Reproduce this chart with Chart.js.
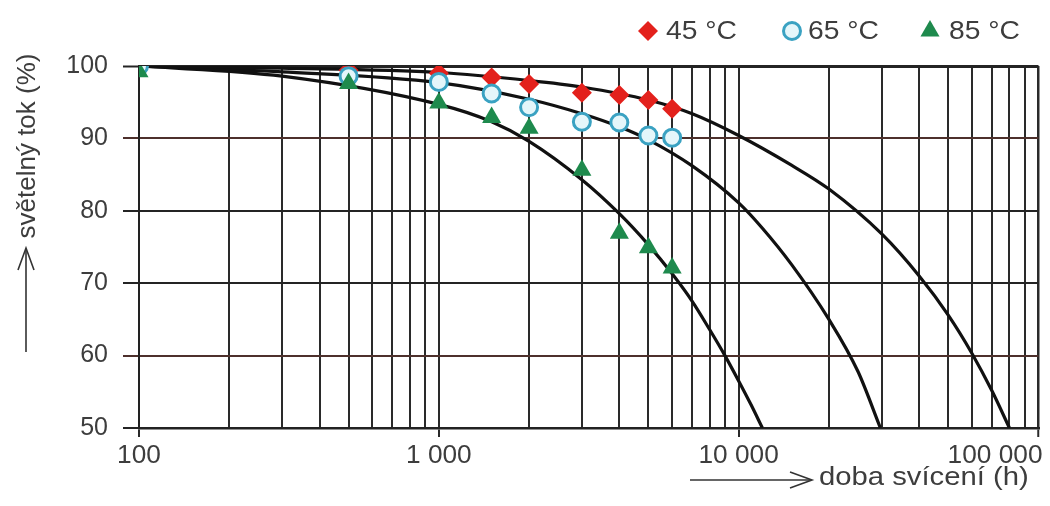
<!DOCTYPE html>
<html>
<head>
<meta charset="utf-8">
<script src="https://cdn.jsdelivr.net/npm/chart.js@4.4.1/dist/chart.umd.min.js"></script>
<style>
  html, body { margin: 0; padding: 0; background: #fff; }
  #wrap { width: 1050px; height: 506px; }
</style>
</head>
<body>
<div id="wrap"><canvas id="chart" width="1050" height="506"></canvas></div>
<script>
// measured points (hours, luminous flux %)
const hours45 = [100, 500, 1000, 1500, 2000, 3000, 4000, 5000, 6000];
const flux45 = [100, 99.4, 99.0, 98.4, 97.5, 96.3, 96.0, 95.3, 94.1];
const hours65 = [100, 500, 1000, 1500, 2000, 3000, 4000, 5000, 6000];
const flux65 = [100, 98.6, 97.8, 96.2, 94.3, 92.3, 92.2, 90.4, 90.1];
const hours85 = [100, 500, 1000, 1500, 2000, 3000, 4000, 5000, 6000];
const flux85 = [99.2, 97.6, 94.9, 92.9, 91.4, 85.6, 76.9, 74.9, 72.1];

// fitted curves
const curveHours45 = [100, 300, 1000, 2000, 3000, 5000, 7000, 10000, 15000, 20000, 30000, 40000, 50000, 60000, 70000, 80000];
const curveFlux45 = [100, 99.7, 99.1, 98.0, 97.1, 95.3, 93.4, 90.4, 86.3, 83.0, 76.8, 71.0, 65.6, 60.3, 55.1, 50];
const curveHours65 = [100, 300, 1000, 2000, 3000, 4000, 5000, 7000, 10000, 12000, 15000, 20000, 25000, 29700];
const curveFlux65 = [100, 99.2, 97.7, 95.4, 93.4, 91.6, 89.8, 86.2, 81.1, 77.6, 72.6, 65.0, 57.8, 50];
const curveHours85 = [100, 300, 1000, 1500, 2000, 3000, 4000, 5000, 6000, 7000, 8000, 9000, 10000, 11000, 12000];
const curveFlux85 = [100, 98.6, 94.7, 92.3, 89.6, 84.3, 79.6, 75.3, 71.3, 67.5, 63.6, 60, 56.5, 53.2, 50];

// axes
const xGridValues = [
    100, 200, 300, 400, 500, 600, 700, 800, 900,
    1000, 2000, 3000, 4000, 5000, 6000, 7000, 8000, 9000,
    10000, 20000, 30000, 40000, 50000, 60000, 70000, 80000, 90000,
    100000
];
const xTickValues = [100, 1000, 10000, 100000];
const xTickLabels = ['100', '1 000', '10 000', '100 000'];
const yTickValues = [50, 60, 70, 80, 90, 100];
const legendLabels = ['45 °C', '65 °C', '85 °C'];
const yTitle = 'světelný tok (%)';
const xTitle = 'doba svícení (h)';

const FONT = '"Liberation Sans", Arial, sans-serif';
const TEXT_COLOR = '#3d3d3d';

function toPoints(xs, ys) {
    return xs.map((x, i) => ({ x: x, y: ys[i] }));
}

function stretchedText(ctx, text, x, y, align, sx) {
    ctx.save();
    ctx.translate(x, y);
    ctx.scale(sx, 1);
    ctx.textAlign = align;
    ctx.fillText(text, 0, 0);
    ctx.restore();
}

function arrowHead(ctx, x, y, dx, dy) {
    // open chevron, apex at (x, y), pointing along (dx, dy)
    const len = 22, half = 8;
    const px = -dy, py = dx;
    ctx.beginPath();
    ctx.moveTo(x - dx * len + px * half, y - dy * len + py * half);
    ctx.lineTo(x, y);
    ctx.lineTo(x - dx * len - px * half, y - dy * len - py * half);
    ctx.stroke();
}

// legend, axis titles and x labels
const decorations = {
    id: 'decorations',
    afterDraw(chart) {
        const ctx = chart.ctx;
        const xScale = chart.scales.x;
        ctx.save();
        ctx.fillStyle = TEXT_COLOR;
        ctx.textBaseline = 'middle';

        // x tick labels
        ctx.font = '25px ' + FONT;
        xTickValues.forEach((v, i) => {
            const px = xScale.getPixelForValue(v);
            const last = i === xTickValues.length - 1;
            stretchedText(ctx, xTickLabels[i], last ? px + 4 : px, 456, last ? 'right' : 'center', 1.05);
        });

        // x title with arrow
        ctx.font = '25px ' + FONT;
        stretchedText(ctx, xTitle, 819, 478, 'left', 1.17);
        ctx.strokeStyle = '#333';
        ctx.lineWidth = 1.6;
        ctx.beginPath();
        ctx.moveTo(690, 480);
        ctx.lineTo(811, 480);
        ctx.stroke();
        arrowHead(ctx, 812, 480, 1, 0);

        // y title with arrow
        ctx.save();
        ctx.translate(28, 146);
        ctx.rotate(-Math.PI / 2);
        ctx.font = '26px ' + FONT;
        ctx.textAlign = 'center';
        ctx.fillText(yTitle, 0, 0);
        ctx.restore();
        ctx.beginPath();
        ctx.moveTo(26, 352);
        ctx.lineTo(26, 249);
        ctx.stroke();
        arrowHead(ctx, 26, 248, 0, -1);

        // legend
        const ly = 31;
        const styles = chart.data.datasets.slice(0, 3);
        const markerX = [648, 792, 930];
        const textX = [666, 808, 949];
        styles.forEach((ds, i) => {
            const mx = markerX[i];
            ctx.save();
            ctx.fillStyle = ds.pointBackgroundColor;
            ctx.strokeStyle = ds.pointBorderColor;
            ctx.lineWidth = ds.pointBorderWidth;
            ctx.beginPath();
            if (ds.pointStyle === 'rectRot') {
                const r = 10;
                ctx.moveTo(mx, ly - r); ctx.lineTo(mx + r, ly); ctx.lineTo(mx, ly + r); ctx.lineTo(mx - r, ly);
                ctx.closePath();
                ctx.fill();
            } else if (ds.pointStyle === 'circle') {
                ctx.arc(mx, ly, 8.5, 0, Math.PI * 2);
                ctx.fill();
                ctx.stroke();
            } else {
                const r = 11;
                ctx.moveTo(mx, ly - r);
                ctx.lineTo(mx + r * 0.866, ly + r / 2);
                ctx.lineTo(mx - r * 0.866, ly + r / 2);
                ctx.closePath();
                ctx.fill();
            }
            ctx.restore();
            ctx.font = '25px ' + FONT;
            ctx.fillStyle = TEXT_COLOR;
            stretchedText(ctx, legendLabels[i], textX[i], ly + 1, 'left', 1.13);
        });
        ctx.restore();
    }
};

function curve(xs, ys) {
    return {
        data: toPoints(xs, ys),
        showLine: true,
        borderColor: '#111',
        borderWidth: 3.2,
        pointRadius: 0,
        cubicInterpolationMode: 'monotone',
        order: 5
    };
}

new Chart(document.getElementById('chart'), {
    type: 'scatter',
    data: {
        datasets: [
            {
                label: legendLabels[0],
                data: toPoints(hours45, flux45),
                pointStyle: 'rectRot',
                pointRadius: 10,
                pointBackgroundColor: '#e3211c',
                pointBorderColor: '#e3211c',
                pointBorderWidth: 0,
                order: 2
            },
            {
                label: legendLabels[1],
                data: toPoints(hours65, flux65),
                pointStyle: 'circle',
                pointRadius: 8.5,
                pointBackgroundColor: '#e4f6fa',
                pointBorderColor: '#3aa2c2',
                pointBorderWidth: 3,
                order: 1
            },
            {
                label: legendLabels[2],
                data: toPoints(hours85, flux85),
                pointStyle: 'triangle',
                pointRadius: 11,
                pointBackgroundColor: '#1e8a4d',
                pointBorderColor: '#1e8a4d',
                pointBorderWidth: 0,
                order: 0
            },
            curve(curveHours45, curveFlux45),
            curve(curveHours65, curveFlux65),
            curve(curveHours85, curveFlux85)
        ]
    },
    options: {
        responsive: false,
        animation: false,
        layout: { padding: { top: 66, right: 7, left: 0, bottom: 0 } },
        plugins: {
            legend: { display: false },
            tooltip: { enabled: false }
        },
        scales: {
            x: {
                type: 'logarithmic',
                min: 100,
                max: 100000,
                afterBuildTicks: (scale) => {
                    scale.ticks = xGridValues.map(v => ({ value: v, major: xTickValues.includes(v) }));
                },
                afterFit: (scale) => { scale.height = 78; },
                ticks: { display: false, autoSkip: false },
                grid: {
                    color: '#2a2a2a',
                    lineWidth: (ctx) => (ctx.tick && ctx.tick.value === 100000 ? 2.5 : 2),
                    drawTicks: true,
                    tickLength: 9,
                    tickWidth: 2,
                    tickColor: (ctx) => (ctx.tick && xTickValues.includes(ctx.tick.value) ? '#2a2a2a' : 'rgba(0,0,0,0)')
                },
                border: { display: true, color: '#222', width: 2.5 }
            },
            y: {
                min: 50,
                max: 100,
                afterBuildTicks: (scale) => {
                    scale.ticks = yTickValues.map(v => ({ value: v }));
                },
                afterFit: (scale) => { scale.width = 139; },
                ticks: {
                    color: TEXT_COLOR,
                    font: { family: FONT, size: 25 },
                    padding: 15
                },
                grid: {
                    color: (ctx) => {
                        const v = ctx.tick ? ctx.tick.value : 0;
                        return (v === 90 || v === 60) ? '#4d302c' : '#242424';
                    },
                    lineWidth: (ctx) => (ctx.tick && ctx.tick.value === 100 ? 3 : 2),
                    tickLength: 16,
                    tickWidth: 2
                },
                border: { display: true, color: '#222', width: 2 }
            }
        }
    },
    plugins: [decorations]
});
</script>
</body>
</html>
